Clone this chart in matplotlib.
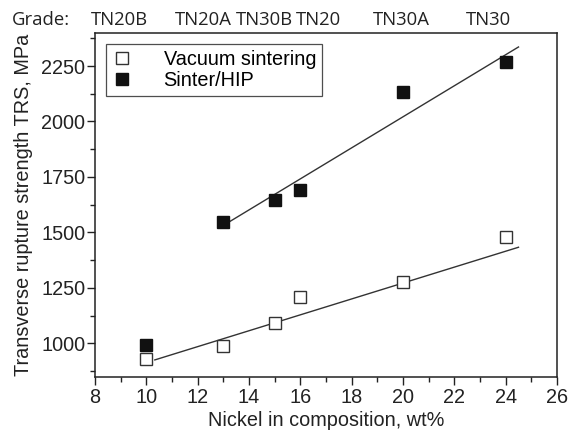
import matplotlib
matplotlib.use("Agg")
import matplotlib.pyplot as plt
from matplotlib.ticker import MultipleLocator

plt.rcParams['font.family'] = ['Liberation Sans', 'DejaVu Sans']

# Data
nickel = [10, 13, 15, 16, 20, 24]
trs_vacuum = [930, 990, 1090, 1210, 1278, 1480]
trs_hip = [992, 1546, 1648, 1693, 2132, 2270]
grades = ["TN20B", "TN20A", "TN30B", "TN20", "TN30A", "TN30"]

# Trend lines (end points)
trend_vac_x = [10.33, 24.5]
trend_vac_y = [925, 1433]
trend_hip_x = [13.18, 24.5]
trend_hip_y = [1544, 2336]

W, H = 572, 436
fig = plt.figure(figsize=(W / 100, H / 100), dpi=100)
ax = fig.add_axes([95 / W, 59 / H, (557 - 95) / W, (403 - 59) / H])

ax.plot(trend_vac_x, trend_vac_y, color='#333333', lw=1.0, zorder=2)
ax.plot(trend_hip_x, trend_hip_y, color='#333333', lw=1.0, zorder=2)

ax.plot(nickel, trs_vacuum, linestyle='none', marker='s', ms=8.6,
        mfc='white', mec='#333333', mew=1.0, label='Vacuum sintering', zorder=3)
ax.plot(nickel, trs_hip, linestyle='none', marker='s', ms=8.6,
        mfc='#111111', mec='#111111', mew=1.0, label='Sinter/HIP', zorder=3)

ax.set_xlim(8, 26)
ax.set_ylim(848, 2399)
ax.xaxis.set_major_locator(MultipleLocator(2))
ax.xaxis.set_minor_locator(MultipleLocator(1))
ax.yaxis.set_major_locator(MultipleLocator(250))
ax.yaxis.set_minor_locator(MultipleLocator(125))
ax.tick_params(which='both', direction='out', top=False, right=False,
               colors='#222222', labelsize=14.3)
ax.tick_params(which='major', length=6, width=1)
ax.tick_params(which='minor', length=3.5, width=1)
ax.tick_params(axis='x', pad=2)
ax.tick_params(axis='y', pad=1)
for s in ax.spines.values():
    s.set_color('#222222')
    s.set_linewidth(1.1)

ax.set_xlabel('Nickel in composition, wt%', fontsize=14.3, color='#222222', labelpad=3)
ax.set_ylabel('Transverse rupture strength TRS, MPa', fontsize=14.3, color='#222222', labelpad=6)

leg = ax.legend(loc='upper left', bbox_to_anchor=(0.0238, 0.968), fontsize=14.3,
                frameon=True, fancybox=False, handlelength=1.0, handletextpad=1.6,
                borderpad=0.3, labelspacing=0.1, borderaxespad=0)
leg.get_frame().set_edgecolor('#222222')
leg.get_frame().set_linewidth(0.9)

# Grade labels along the top
gfont = ['Open Sans', 'DejaVu Sans']
fig.text(12 / W, 1 - 20 / H, "Grade:", fontsize=13.3, family=gfont,
         color='#222222', ha='left', va='center')
grade_px = [119, 203, 264, 318, 401, 489]
for g, px in zip(grades, grade_px):
    fig.text(px / W, 1 - 20 / H, g, fontsize=13.3, family=gfont,
             color='#222222', ha='center', va='center')

fig.savefig('out.png', dpi=100, facecolor='white')
